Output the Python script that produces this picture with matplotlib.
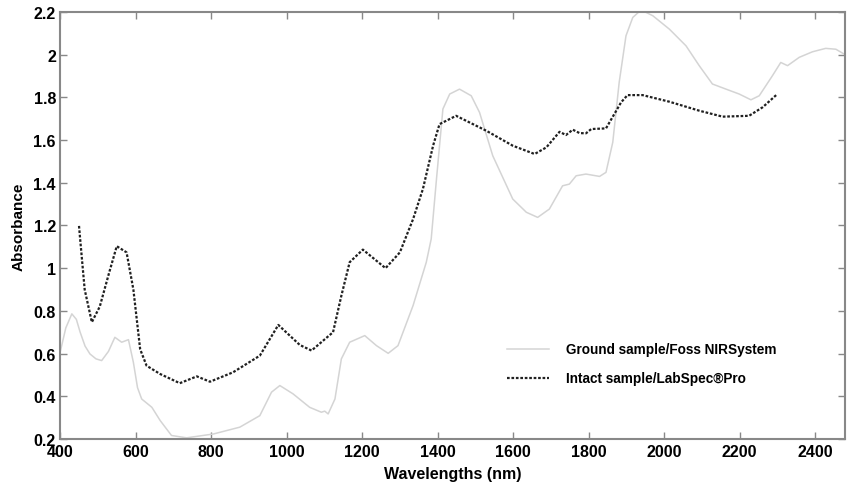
import matplotlib.pyplot as plt

# Ground sample / Foss NIRSystem (light grey solid)
ground_wl = [400, 415, 431, 443, 453, 466, 479, 495, 510, 528, 545, 563, 581, 594,
             605, 616, 643, 665, 695, 735, 806, 876, 929, 960, 982, 1017, 1061, 1092,
             1101, 1110, 1128, 1145, 1167, 1207, 1238, 1269, 1295, 1335, 1370, 1383,
             1397, 1414, 1432, 1458, 1489, 1511, 1546, 1599, 1635, 1665, 1696, 1731,
             1749, 1767, 1793, 1829, 1846, 1864, 1881, 1899, 1917, 1939, 1970, 2014,
             2058, 2093, 2128, 2164, 2199, 2230, 2252, 2287, 2309, 2327, 2358, 2393,
             2428, 2455, 2480]
ground_abs = [0.606, 0.72, 0.786, 0.76, 0.700, 0.635, 0.598, 0.575, 0.567, 0.61,
              0.676, 0.653, 0.665, 0.559, 0.44, 0.387, 0.348, 0.286, 0.216, 0.205,
              0.223, 0.255, 0.309, 0.419, 0.450, 0.411, 0.348, 0.325, 0.330, 0.317,
              0.387, 0.575, 0.653, 0.684, 0.637, 0.601, 0.637, 0.825, 1.028, 1.137,
              1.418, 1.746, 1.816, 1.839, 1.808, 1.730, 1.527, 1.324, 1.262, 1.238,
              1.277, 1.386, 1.394, 1.433, 1.441, 1.430, 1.449, 1.590, 1.871, 2.089,
              2.175, 2.21, 2.183, 2.120, 2.042, 1.949, 1.863, 1.839, 1.816, 1.789,
              1.808, 1.902, 1.964, 1.949, 1.988, 2.014, 2.030, 2.026, 2.000]

# Intact sample / LabSpec Pro (black dotted)
intact_wl = [450, 453, 465, 484, 505, 530, 550, 576, 594, 612, 629, 665, 717, 762,
             797, 858, 929, 978, 1035, 1066, 1123, 1145, 1167, 1202, 1262, 1300,
             1335, 1361, 1388, 1405, 1449, 1529, 1599, 1657, 1688, 1723, 1740, 1758,
             1776, 1793, 1807, 1846, 1868, 1886, 1903, 1943, 2014, 2093, 2155, 2225,
             2261, 2300]
intact_abs = [1.198, 1.137, 0.90, 0.747, 0.82, 0.98, 1.103, 1.074, 0.90, 0.62, 0.543,
              0.504, 0.461, 0.493, 0.468, 0.512, 0.590, 0.734, 0.640, 0.614, 0.700,
              0.871, 1.028, 1.087, 1.000, 1.074, 1.230, 1.371, 1.574, 1.675, 1.714,
              1.644, 1.574, 1.535, 1.566, 1.639, 1.624, 1.649, 1.633, 1.632, 1.652,
              1.655, 1.722, 1.777, 1.811, 1.811, 1.780, 1.738, 1.710, 1.714, 1.754,
              1.816]

xticks = [400, 600, 800, 1000, 1200, 1400, 1600, 1800, 2000, 2200, 2400]
yticks = [0.2, 0.4, 0.6, 0.8, 1.0, 1.2, 1.4, 1.6, 1.8, 2.0, 2.2]
ytick_labels = ["0.2", "0.4", "0.6", "0.8", "1", "1.2", "1.4", "1.6", "1.8", "2", "2.2"]

plt.rcParams['font.family'] = ['Liberation Sans', 'DejaVu Sans']
plt.rcParams['font.weight'] = 'bold'

fig = plt.figure(figsize=(8.47, 4.85), dpi=100)
ax = fig.add_axes([0.071, 0.093, 0.927, 0.880])

ax.plot(ground_wl, ground_abs, color='#d4d4d4', lw=1.1,
        label='Ground sample/Foss NIRSystem')
ax.plot(intact_wl, intact_abs, color='#202020', lw=1.6, linestyle=(0, (1.2, 0.8)),
        label='Intact sample/LabSpec\u00aePro')

ax.set_xlim(400, 2480)
ax.set_ylim(0.2, 2.2)
ax.set_xticks(xticks)
ax.set_yticks(yticks)
ax.set_yticklabels(ytick_labels)
ax.tick_params(direction='in', top=True, right=True, length=5, width=1,
               color='#888888', labelsize=11.5)
ax.tick_params(axis='x', pad=4)
ax.tick_params(axis='y', pad=3)
for lab in ax.get_xticklabels() + ax.get_yticklabels():
    lab.set_fontweight('bold')
for s in ax.spines.values():
    s.set_color('#888888')
    s.set_linewidth(1.5)

ax.set_xlabel('Wavelengths (nm)', fontsize=11.5, fontweight='bold', labelpad=5)
ax.set_ylabel('Absorbance', fontsize=11, fontweight='bold', labelpad=6)

leg = ax.legend(loc='center left', bbox_to_anchor=(0.553, 0.176), frameon=False,
                fontsize=9.8, handlelength=3.1, handletextpad=1.3, labelspacing=1.1)
for t in leg.get_texts():
    t.set_fontweight('bold')

plt.savefig('out.png', dpi=100)
